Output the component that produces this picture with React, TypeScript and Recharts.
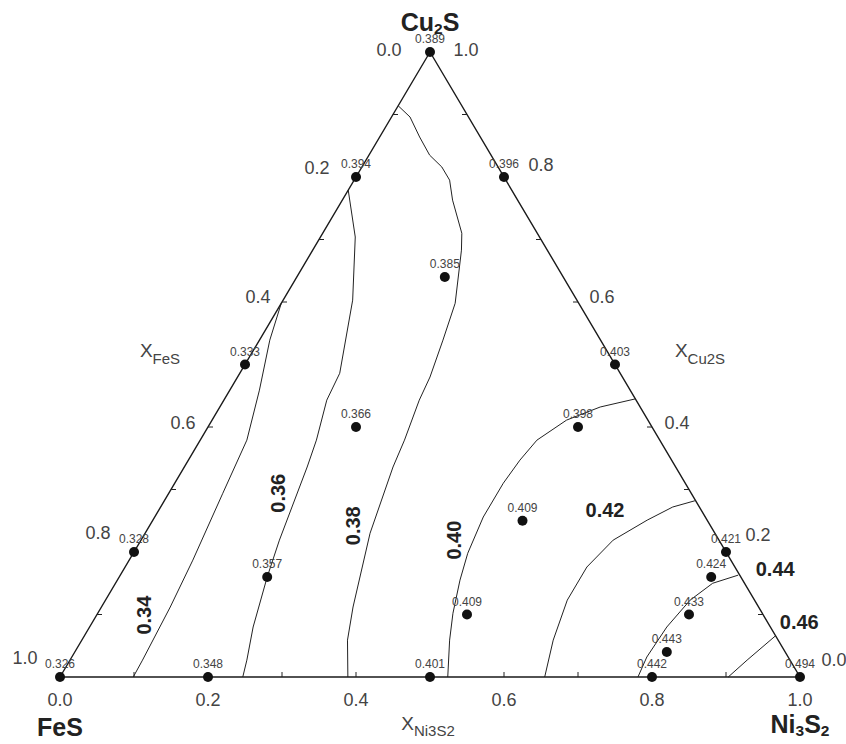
import { ScatterChart, Scatter, XAxis, YAxis } from "recharts"

// compositions are [x(Ni3S2), x(Cu2S)], x(FeS) is what is left
const edgeTickLabels = [0, 0.2, 0.4, 0.6, 0.8, 1.0]
const minorTicks = [0.1, 0.2, 0.3, 0.4, 0.5, 0.6, 0.7, 0.8, 0.9]

// measured points
const sampleNi3S2 = [0, 0.2, 0.5, 0.8, 1, 0, 0.2, 0.5, 0.8, 0.8, 0.8, 0.8, 0.5, 0.2, 0.5, 0, 0.5, 0.2, 0, 0.2, 0]
const sampleCu2S = [0, 0, 0, 0, 0, 0.2, 0.16, 0.1, 0.04, 0.1, 0.16, 0.2, 0.25, 0.4, 0.4, 0.5, 0.5, 0.64, 0.8, 0.8, 1]
const sampleValue = [0.326, 0.348, 0.401, 0.442, 0.494, 0.328, 0.357, 0.409, 0.443, 0.433, 0.424, 0.421, 0.409, 0.366, 0.398, 0.333, 0.403, 0.385, 0.394, 0.396, 0.389]

// iso-lines
const contourLevels = ["0.34", "0.36", "0.38", "0.40", "0.42", "0.44", "0.46"]
const contour034 = [[0, 0.598], [0.014, 0.539], [0.04, 0.459], [0.063, 0.379], [0.073, 0.294], [0.086, 0.187], [0.093, 0.112], [0.098, 0.027], [0.099, 0]]
const contour036 = [[0, 0.779], [0.047, 0.704], [0.094, 0.603], [0.135, 0.486], [0.139, 0.443], [0.157, 0.379], [0.166, 0.336], [0.187, 0.219], [0.2, 0.16], [0.221, 0.08], [0.239, 0.027], [0.247, 0]]
const contour038 = [[0, 0.914], [0.025, 0.896], [0.054, 0.864], [0.082, 0.835], [0.108, 0.816], [0.129, 0.795], [0.149, 0.763], [0.188, 0.71], [0.201, 0.683], [0.235, 0.598], [0.248, 0.539], [0.26, 0.48], [0.264, 0.443], [0.276, 0.379], [0.282, 0.336], [0.304, 0.23], [0.34, 0.112], [0.359, 0.059], [0.389, 0]]
const contour040 = [[0.524, 0], [0.497, 0.059], [0.48, 0.102], [0.463, 0.155], [0.452, 0.198], [0.444, 0.256], [0.444, 0.31], [0.448, 0.347], [0.455, 0.379], [0.479, 0.411], [0.514, 0.432], [0.555, 0.445]]
const contour042 = [[0.655, 0], [0.637, 0.059], [0.624, 0.123], [0.624, 0.176], [0.638, 0.219], [0.668, 0.251], [0.692, 0.272], [0.717, 0.282]]
const contour044 = [[0.781, 0], [0.777, 0.032], [0.78, 0.08], [0.79, 0.123], [0.807, 0.15], [0.835, 0.163]]
const contour046 = [[0.903, 0], [0.915, 0.027], [0.934, 0.066]]
const contourLabelAt = [[0.064, 0.099], [0.148, 0.294], [0.275, 0.242], [0.423, 0.219], [0.603, 0.267], [0.88, 0.173], [0.955, 0.088]]

const FONT = "'Liberation Sans', Arial, sans-serif"

// ternary -> cartesian (data units of the hidden axes)
const toXY = (ni: number, cu: number) => ({ x: ni + cu / 2, y: cu })

const chem = (name: string, size: number) =>
  name.split(/(\d+)/).filter(Boolean).map((part, i) =>
    /\d/.test(part) ? (
      <tspan key={i} fontSize={size * 0.62} dy={size * 0.22}>{part}</tspan>
    ) : (
      <tspan key={i} dy={i === 0 ? 0 : -size * 0.22}>{part}</tspan>
    )
  )

const NoShape = () => <g />

const SampleDot = (props: any) => {
  const { cx, cy, payload } = props
  return (
    <g>
      <circle cx={cx} cy={cy} r={5} fill="#111" />
      <text x={cx} y={cy - 9} textAnchor="middle" fontSize={12} fill="#444" fontFamily={FONT}>
        {payload.value.toFixed(3)}
      </text>
    </g>
  )
}

const tickShape = (dx: number, dy: number) => (props: any) => (
  <line x1={props.cx} y1={props.cy} x2={props.cx + dx} y2={props.cy + dy} stroke="#222" strokeWidth={1} />
)

const TickLabel = (props: any) => {
  const { cx, cy, payload } = props
  return (
    <text x={cx + payload.dx} y={cy + payload.dy} textAnchor="middle" dominantBaseline="central" fontSize={18} fill="#444" fontFamily={FONT}>
      {payload.text}
    </text>
  )
}

const ContourLabel = (props: any) => {
  const { cx, cy, payload } = props
  return (
    <text
      x={cx}
      y={cy}
      textAnchor="middle"
      dominantBaseline="central"
      fontSize={20}
      fontWeight="bold"
      fill="#222"
      fontFamily={FONT}
      transform={payload.vertical ? `rotate(-90 ${cx} ${cy})` : undefined}
    >
      {payload.text}
    </text>
  )
}

const VertexLabel = (props: any) => {
  const { cx, cy, payload } = props
  return (
    <text x={cx + payload.dx} y={cy + payload.dy} textAnchor="middle" dominantBaseline="central" fontSize={25} fontWeight="bold" fill="#222" fontFamily={FONT}>
      {chem(payload.text, 25)}
    </text>
  )
}

const AxisTitle = (props: any) => {
  const { cx, cy, payload } = props
  return (
    <text x={cx + payload.dx} y={cy + payload.dy} textAnchor="middle" dominantBaseline="central" fontSize={19} fill="#444" fontFamily={FONT}>
      X<tspan fontSize={15} dy={7}>{payload.text}</tspan>
    </text>
  )
}

export default function App() {
  const samples = sampleValue.map((v, i) => ({ ...toXY(sampleNi3S2[i], sampleCu2S[i]), value: v }))
  const contours = [contour034, contour036, contour038, contour040, contour042, contour044, contour046].map((c) =>
    c.map(([ni, cu]) => toXY(ni, cu))
  )
  const contourLabels = contourLevels.map((t, i) => ({
    ...toXY(contourLabelAt[i][0], contourLabelAt[i][1]),
    text: t,
    vertical: i < 4,
  }))
  const frame = [toXY(0, 0), toXY(1, 0), toXY(0, 1), toXY(0, 0)]

  const bottomTicks = minorTicks.map((t) => toXY(t, 0))
  const leftTicks = minorTicks.map((t) => toXY(0, t))
  const rightTicks = minorTicks.map((t) => toXY(1 - t, t))

  // label nudges (pixels) for the three scales, in tick order 0.0 .. 1.0
  const bottomOff = edgeTickLabels.map(() => [0, 23])
  const leftOff = [[-41, -2], [-39, -9], [-24, -5], [-25, -4], [-36, -19], [-35, -19]]
  const rightOff = [[34, -17], [32, -17], [25, -4], [24, -5], [37, -12], [36, -2]]
  const tickLabels = [
    ...edgeTickLabels.map((t, i) => ({ ...toXY(t, 0), text: t.toFixed(1), dx: bottomOff[i][0], dy: bottomOff[i][1] })),
    // X(FeS) along left edge: FeS = t  -> Cu2S = 1 - t
    ...edgeTickLabels.map((t, i) => ({ ...toXY(0, 1 - t), text: t.toFixed(1), dx: leftOff[i][0], dy: leftOff[i][1] })),
    // X(Cu2S) along right edge
    ...edgeTickLabels.map((t, i) => ({ ...toXY(1 - t, t), text: t.toFixed(1), dx: rightOff[i][0], dy: rightOff[i][1] })),
  ]

  const vertices = [
    { ...toXY(0, 0), text: "FeS", dx: 0, dy: 50 },
    { ...toXY(1, 0), text: "Ni3S2", dx: 0, dy: 47 },
    { ...toXY(0, 1), text: "Cu2S", dx: 0, dy: -30 },
  ]
  const titles = [
    { ...toXY(0, 0.5), text: "FeS", dx: -85, dy: -14 },
    { ...toXY(0.5, 0.5), text: "Cu2S", dx: 85, dy: -14 },
    { ...toXY(0.5, 0), text: "Ni3S2", dx: -2, dy: 46 },
  ]

  return (
    <>
      <style>{"body{margin:0;overflow:hidden}"}</style>
      <ScatterChart width={846} height={744} margin={{ top: 52, right: 46, bottom: 67, left: 60 }}>
        <XAxis type="number" dataKey="x" domain={[0, 1]} hide />
        <YAxis type="number" dataKey="y" domain={[0, 1]} hide />

        {contours.map((c, i) => (
          <Scatter key={"c" + i} data={c} line={{ stroke: "#222", strokeWidth: 1 }} shape={NoShape} isAnimationActive={false} />
        ))}

        <Scatter data={frame} line={{ stroke: "#1a1a1a", strokeWidth: 1.4 }} shape={NoShape} isAnimationActive={false} />
        <Scatter data={bottomTicks} shape={tickShape(0, -5)} isAnimationActive={false} />
        <Scatter data={leftTicks} shape={tickShape(5, 0)} isAnimationActive={false} />
        <Scatter data={rightTicks} shape={tickShape(-5, 0)} isAnimationActive={false} />

        <Scatter data={samples} shape={SampleDot} isAnimationActive={false} />

        <Scatter data={contourLabels} shape={ContourLabel} isAnimationActive={false} />
        <Scatter data={tickLabels} shape={TickLabel} isAnimationActive={false} />
        <Scatter data={vertices} shape={VertexLabel} isAnimationActive={false} />
        <Scatter data={titles} shape={AxisTitle} isAnimationActive={false} />
      </ScatterChart>
    </>
  )
}
